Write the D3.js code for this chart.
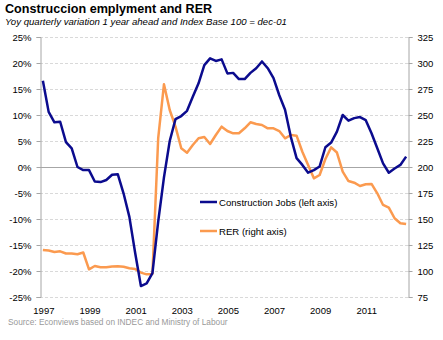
<!DOCTYPE html>
<html>
<head>
<meta charset="utf-8">
<script src="https://cdn.jsdelivr.net/npm/d3@7"></script>
<style>
  body { margin: 0; background: #fff; }
  text { font-family: Tahoma, "Liberation Sans", Arial, sans-serif; }
</style>
</head>
<body>
<script>
// quarterly data, 1997Q1 .. 2012Q4
startYear = 1997;

// yoy change in construction jobs, 1 year ahead (%)
jobs = [16.6, 10.6, 8.6, 8.7, 4.8, 3.6, 0.0, -0.6,
        -0.6, -2.8, -2.9, -2.5, -1.5, -1.4, -5.1, -9.6,
        -16.5, -22.9, -22.4, -20.4, -10.5, -2.0, 5.0, 9.2,
        9.8, 10.8, 13.5, 16.1, 19.6, 20.9, 20.4, 20.7,
        18.0, 18.1, 16.9, 16.9, 18.1, 19.0, 20.3, 19.0,
        17.1, 13.8, 11.0, 5.8, 1.7, 0.4, -1.1, -0.6,
        0.1, 3.8, 4.7, 6.8, 10.0, 8.9, 9.4, 9.6,
        9.0, 6.5, 3.6, 0.7, -1.1, -0.3, 0.4, 2.0];

// real exchange rate, index dec-01 = 100
rer = [120.2, 119.7, 118.3, 118.9, 116.8, 116.8, 116.1, 117.8,
       101.6, 104.8, 103.6, 103.6, 104.3, 104.5, 104.1, 102.6,
       101.9, 98.4, 96.8, 97.1, 227.7, 279.5, 254.8, 238.8,
       218.0, 213.8, 221.2, 227.6, 228.8, 222.1, 230.8, 238.8,
       234.6, 232.4, 232.4, 237.2, 243.0, 241.3, 240.4, 237.2,
       237.2, 234.6, 227.6, 230.8, 230.1, 214.7, 201.9, 189.1,
       192.3, 207.7, 218.9, 213.9, 195.5, 186.5, 184.9, 181.7,
       183.4, 183.7, 174.7, 163.5, 160.9, 150.7, 145.9, 145.2];

leftTicks = [-25, -20, -15, -10, -5, 0, 5, 10, 15, 20, 25];
rightTicks = [75, 100, 125, 150, 175, 200, 225, 250, 275, 300, 325];
yearLabels = ["1997", "1999", "2001", "2003", "2005", "2007", "2009", "2011"];

seriesNames = ["Construction Jobs (left axis)", "RER (right axis)"];
colors = ["#0b0b8e", "#fb9a4f"];

w = 443;
h = 340;
margin = {top: 37, right: 34, bottom: 43, left: 40};

svg = d3.select("body")
  .append("svg")
    .attr("width", w)
    .attr("height", h);

x = d3.scaleBand()
  .domain(d3.range(jobs.length))
  .range([margin.left, w - margin.right])
  .padding(0);

yL = d3.scaleLinear().domain([-25, 25]).range([h - margin.bottom, margin.top]);
yR = d3.scaleLinear().domain([75, 325]).range([h - margin.bottom, margin.top]);

cx = (i) => x(i) + x.bandwidth() / 2;

// gridlines
svg.append("g")
  .selectAll("line")
  .data(leftTicks.filter(d => d !== 0))
  .enter()
  .append("line")
    .attr("x1", margin.left)
    .attr("x2", w - margin.right)
    .attr("y1", d => yL(d) + 0.5)
    .attr("y2", d => yL(d) + 0.5)
    .attr("stroke", "#d9d9d9")
    .attr("stroke-dasharray", "3,2");

// left axis
var leftAxis = svg.append("g")
  .attr("transform", "translate(" + (margin.left + 0.5) + ",0)")
  .call(d3.axisLeft(yL).tickValues(leftTicks).tickSize(4).tickPadding(5).tickFormat(d => d + "%"));

// right axis
var rightAxis = svg.append("g")
  .attr("transform", "translate(" + (w - margin.right - 0.5) + ",0)")
  .call(d3.axisRight(yR).tickValues(rightTicks).tickSize(4).tickPadding(5));

[leftAxis, rightAxis].forEach(a => {
  a.select(".domain").attr("stroke", "#a6a6a6");
  a.selectAll(".tick line").attr("stroke", "#a6a6a6");
  a.selectAll(".tick text")
    .attr("font-size", 9.5)
    .attr("fill", "#000")
    .style("font-family", "Tahoma, 'Liberation Sans', Arial, sans-serif");
});

// zero line
svg.append("line")
  .attr("x1", margin.left)
  .attr("x2", w - margin.right)
  .attr("y1", yL(0) + 0.5)
  .attr("y2", yL(0) + 0.5)
  .attr("stroke", "#a6a6a6");

// year labels every 8 quarters
svg.append("g")
  .selectAll("text")
  .data(yearLabels)
  .enter()
  .append("text")
    .attr("x", (d, i) => cx(i * 8) + 1)
    .attr("y", h - margin.bottom + 17)
    .attr("text-anchor", "middle")
    .attr("font-size", 9.5)
    .text(d => d);

line = (scale) => d3.line()
  .x((d, i) => cx(i))
  .y(d => scale(d));

svg.append("path")
  .datum(rer)
  .attr("d", line(yR))
  .attr("fill", "none")
  .attr("stroke", colors[1])
  .attr("stroke-width", 2.5)
  .attr("stroke-linejoin", "round");

svg.append("path")
  .datum(jobs)
  .attr("d", line(yL))
  .attr("fill", "none")
  .attr("stroke", colors[0])
  .attr("stroke-width", 2.5)
  .attr("stroke-linejoin", "round");

// legend
var legend = svg.append("g")
  .selectAll("g")
  .data(seriesNames)
  .enter()
  .append("g")
    .attr("transform", (d, i) => "translate(200," + (202 + i * 29) + ")");

legend.append("line")
  .attr("x1", 0).attr("x2", 17)
  .attr("stroke", (d, i) => colors[i])
  .attr("stroke-width", 2.5);

legend.append("text")
  .attr("x", 19)
  .attr("y", 3.5)
  .attr("font-size", 9.6)
  .text(d => d);

// titles
svg.append("text")
  .attr("x", 5)
  .attr("y", 13)
  .attr("font-size", 12.6)
  .attr("font-weight", "bold")
  .text("Construccion emplyment and RER");

svg.append("text")
  .attr("x", 5)
  .attr("y", 25)
  .attr("font-size", 9.6)
  .attr("font-style", "italic")
  .text("Yoy quarterly variation 1 year ahead and Index Base 100 = dec-01");

svg.append("text")
  .attr("x", 8)
  .attr("y", 325)
  .attr("font-size", 8.3)
  .attr("fill", "#999")
  .text("Source: Econviews based on INDEC and Ministry of Labour");
</script>
</body>
</html>
